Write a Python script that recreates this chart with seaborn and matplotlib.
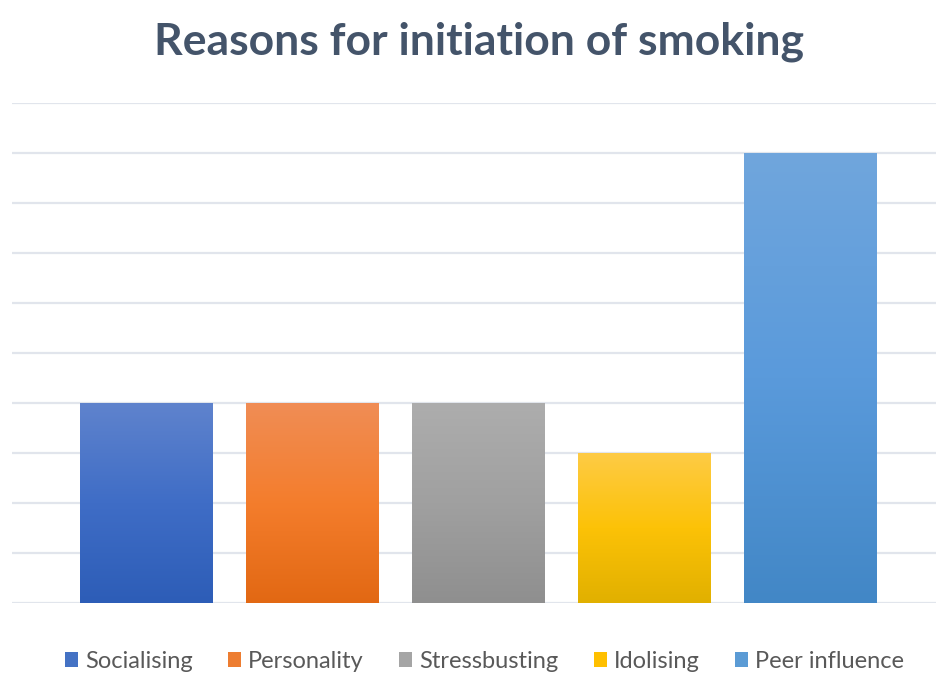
import numpy as np
import pandas as pd
import matplotlib
matplotlib.use("Agg")
import matplotlib.pyplot as plt
import seaborn as sns
from matplotlib.colors import LinearSegmentedColormap
from matplotlib.patches import Patch

categories = ["Socialising", "Personality", "Stressbusting", "Idolising", "Peer influence"]
values = [4, 4, 4, 3, 9]
legend_colors = ["#4472C4", "#ED7D31", "#A5A5A5", "#FFC000", "#5B9BD5"]
top_colors = ["#5F83CD", "#F08D55", "#ADADAD", "#FECB45", "#70A6DD"]
mid_colors = ["#3F6DC6", "#F47D2C", "#A0A0A0", "#FCC207", "#5A9ADB"]
bottom_colors = ["#2D5DB7", "#E26813", "#8F8F8F", "#E1B000", "#4287C6"]
title = "Reasons for initiation of smoking"

sns.set_theme(style="white")
plt.rcParams["font.family"] = ["Lato", "DejaVu Sans"]

df = pd.DataFrame({"category": categories, "value": values})

fig = plt.figure(figsize=(9.37, 6.73), dpi=100)
ax = fig.add_axes([12 / 937, 70 / 673, 1 - 12 / 937, 500 / 673])

sns.barplot(data=df, x="category", y="value", hue="category",
            palette=legend_colors, dodge=False, width=0.8, ax=ax, legend=False)

ax.set_ylim(0, 10)
ax.set_xlim(-0.807, 4.765)
ax.set_yticks(np.arange(0, 11, 1))
ax.yaxis.grid(True, color="#E1E5EC", linewidth=1.6)
ax.set_axisbelow(True)
for s in ax.spines.values():
    s.set_visible(False)
ax.set_xticks([])
ax.set_yticklabels([])
ax.tick_params(left=False, bottom=False)
ax.set_xlabel("")
ax.set_ylabel("")

# gradient overlay
for patch, c_top, c_mid, c_bot in zip(ax.patches, top_colors, mid_colors, bottom_colors):
    x0, y0 = patch.get_x(), patch.get_y()
    w, h = patch.get_width(), patch.get_height()
    cmap = LinearSegmentedColormap.from_list("g", [c_bot, c_mid, c_top])
    grad = np.linspace(0, 1, 256).reshape(-1, 1)
    im = ax.imshow(grad, cmap=cmap, aspect="auto", origin="lower",
                   extent=[x0, x0 + w, y0, y0 + h], zorder=patch.get_zorder() + 0.1)
    im.set_clip_path(patch)
    patch.set_edgecolor("none")
ax.set_xlim(-0.807, 4.765)
ax.set_ylim(0, 10)

fig.text(0.511, 1 - 42 / 673, title, ha="center", va="center",
         fontsize=32, fontweight="bold", color="#44546A")

handles = [Patch(facecolor=c, edgecolor="none", label=l) for c, l in zip(legend_colors, categories)]
fig.legend(handles=handles, loc="center", bbox_to_anchor=(0.517, 1 - 661 / 673),
           ncol=5, frameon=False, fontsize=17, handlelength=0.55, handleheight=0.6,
           handletextpad=0.3, columnspacing=1.5, labelcolor="#595959")

fig.savefig("out.png", dpi=100)
